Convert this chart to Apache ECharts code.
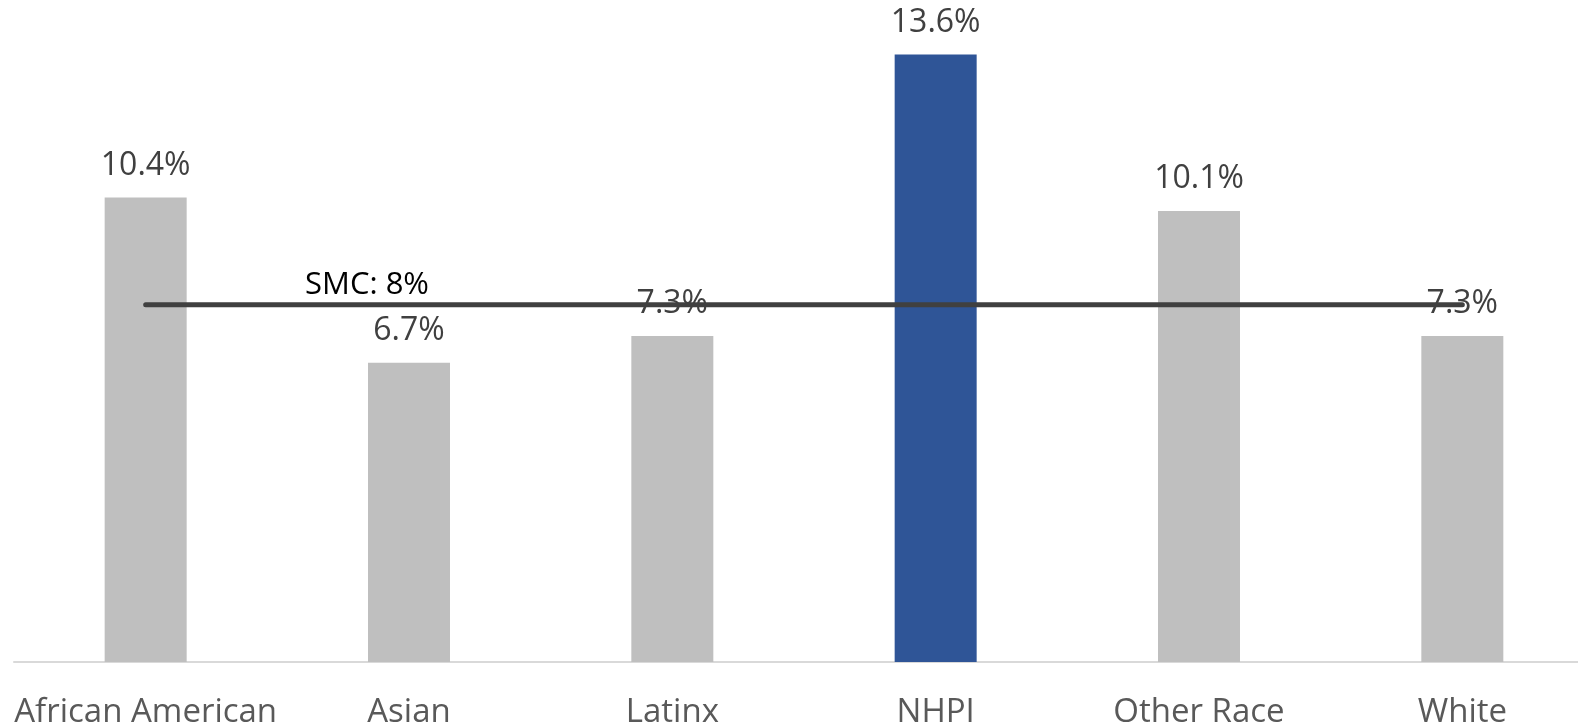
<!DOCTYPE html>
<html>
<head>
<meta charset="utf-8">
<script src="https://cdn.jsdelivr.net/npm/echarts@6/dist/echarts.min.js"></script>
<style>html,body{margin:0;padding:0;background:#fff;}#c{width:1578px;height:725px;}</style>
</head>
<body>
<div id="c"></div>
<script>
const categories = ['African American', 'Asian', 'Latinx', 'NHPI', 'Other Race', 'White'];
const rates = [10.4, 6.7, 7.3, 13.6, 10.1, 7.3];
const highlightIndex = 3;
const smcValue = 8;
const smcLabel = 'SMC: 8%';

const chart = echarts.init(document.getElementById('c'));
chart.setOption({
  animation: false,
  grid: { left: 14, width: 1580, top: 1, bottom: 63, containLabel: false, outerBoundsMode: 'none' },
  xAxis: {
    type: 'category',
    data: categories,
    axisLine: { lineStyle: { color: '#d9d9d9', width: 2 } },
    axisTick: { show: false },
    axisLabel: { color: '#595959', fontSize: 33, fontFamily: 'Open Sans', margin: 34, interval: 0 }
  },
  yAxis: {
    type: 'value', min: 0, max: 14.8,
    show: false, splitLine: { show: false }
  },
  series: [
    {
      type: 'bar',
      barWidth: 82,
      data: rates.map((v, i) => ({
        value: v,
        itemStyle: { color: i === highlightIndex ? '#2f5597' : '#bfbfbf' }
      })),
      label: {
        show: true, position: 'top', distance: 16,
        formatter: p => p.value.toFixed(1) + '%',
        color: '#404040', fontSize: 32, fontFamily: 'Open Sans'
      },
      z: 2
    },
    {
      type: 'line',
      data: categories.map((c, i) => ({
        value: smcValue,
        label: i === 1 ? {
          show: true, position: 'top', distance: 4, offset: [-42, 0],
          formatter: smcLabel, color: '#000', fontSize: 31, fontFamily: 'Open Sans'
        } : { show: false }
      })),
      symbol: 'circle',
      symbolSize: 0,
      showSymbol: true,
      itemStyle: { color: '#404040' },
      lineStyle: { color: '#404040', width: 5, cap: 'round' },
      z: 3
    }
  ]
});
</script>
</body>
</html>
